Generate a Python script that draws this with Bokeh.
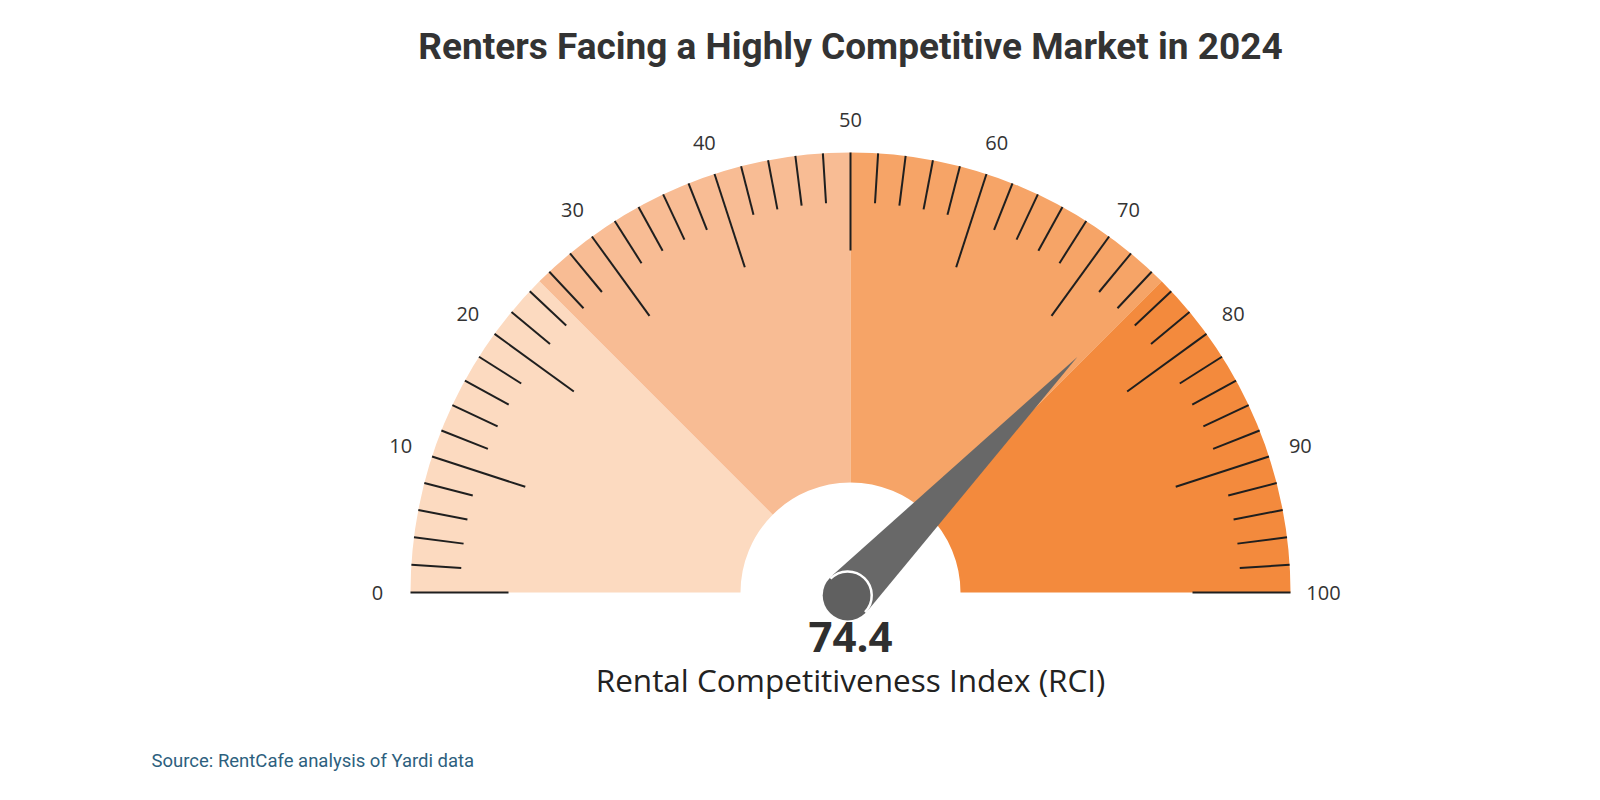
import math
from bokeh.plotting import figure
from bokeh.models import ColumnDataSource, Range1d
from bokeh.core.properties import value
from bokeh.embed import file_html
from bokeh.resources import INLINE

# ---- data ----
title_text = "Renters Facing a Highly Competitive Market in 2024"
source_text = "Source: RentCafe analysis of Yardi data"
index_name = "Rental Competitiveness Index (RCI)"
rci_value = 74.4
band_edges = [0, 25, 50, 75, 100]
band_colors = ["#FCDAC0", "#F8BC94", "#F6A467", "#F38A3D"]
major_ticks = [0, 10, 20, 30, 40, 50, 60, 70, 80, 90, 100]
minor_ticks = [v for v in range(0, 101, 2) if v % 10 != 0]
tick_labels = [str(v) for v in major_ticks]

# ---- geometry (pixel-like data units) ----
W, H = 1600, 800
CX, CY = 850, 800 - 592
R_OUT, R_IN = 440, 110
MAJOR_LEN, MINOR_LEN = 98, 50
LABEL_R = 473


def ang(v):
    return math.pi * (1 - v / 100.0)


p = figure(width=W, height=H, x_range=Range1d(0, W), y_range=Range1d(0, H),
           output_backend="svg", toolbar_location=None, min_border=0,
           outline_line_color=None, background_fill_color="white",
           border_fill_color="white")
p.axis.visible = False
p.grid.visible = False

# bands
band_src = ColumnDataSource(dict(
    start=[ang(b) for b in band_edges[1:]],
    end=[ang(a) for a in band_edges[:-1]],
    color=band_colors,
))
p.annular_wedge(x=CX, y=CY, inner_radius=R_IN, outer_radius=R_OUT,
                start_angle="start", end_angle="end", color="color",
                line_color=None, source=band_src)


def tick_src(vals, length):
    x0, y0, x1, y1 = [], [], [], []
    for v in vals:
        a = ang(v)
        x0.append(CX + R_OUT * math.cos(a)); y0.append(CY + R_OUT * math.sin(a))
        x1.append(CX + (R_OUT - length) * math.cos(a)); y1.append(CY + (R_OUT - length) * math.sin(a))
    return ColumnDataSource(dict(x0=x0, y0=y0, x1=x1, y1=y1))


p.segment(x0="x0", y0="y0", x1="x1", y1="y1", source=tick_src(minor_ticks, MINOR_LEN),
          line_color="#1f1f1f", line_width=2)
p.segment(x0="x0", y0="y0", x1="x1", y1="y1", source=tick_src(major_ticks, MAJOR_LEN),
          line_color="#1f1f1f", line_width=2)

# tick labels
lab_src = ColumnDataSource(dict(
    x=[CX + LABEL_R * math.cos(ang(v)) for v in major_ticks],
    y=[CY + LABEL_R * math.sin(ang(v)) for v in major_ticks],
    t=tick_labels,
))
p.text(x="x", y="y", text="t", source=lab_src, text_align="center",
       text_baseline="middle", text_font=value("Open Sans"),
       text_font_size="20px", text_color="#333333")

# needle
a = ang(rci_value)
NEEDLE_LEN = 327
BASE_R = 25
tipx, tipy = CX + NEEDLE_LEN * math.cos(a), CY + NEEDLE_LEN * math.sin(a)
px, py = -math.sin(a), math.cos(a)
p.patch(x=[CX + BASE_R * px, tipx, CX - BASE_R * px],
        y=[CY + BASE_R * py, tipy, CY - BASE_R * py],
        fill_color="#686868", line_color=None)
p.scatter(x=[CX - 4 * math.cos(a)], y=[CY - 4 * math.sin(a)], size=2 * BASE_R,
          fill_color="#606060", line_color=None)
p.arc(x=CX - 4 * math.cos(a), y=CY - 4 * math.sin(a), radius=BASE_R - 1,
      start_angle=a - math.pi / 2, end_angle=a + math.pi / 2,
      line_color="white", line_width=2.5)

# value and name
p.text(x=[CX], y=[800 - 636], text=[f"{rci_value:.1f}"], text_align="center",
       text_baseline="middle", text_font=value("Open Sans"), text_font_style="bold",
       text_font_size="42px", text_color="#2f2f2f")
p.text(x=[CX], y=[800 - 679], text=[index_name], text_align="center",
       text_baseline="middle", text_font=value("Open Sans"),
       text_font_size="31.5px", text_color="#222222")

# title
p.text(x=[CX], y=[800 - 46], text=[title_text], text_align="center",
       text_baseline="middle", text_font=value("Roboto"),
       text_font_style="bold", text_font_size="37px", text_color="#333333")

# source
p.text(x=[151], y=[800 - 760], text=[source_text], text_align="left",
       text_baseline="middle", text_font=value("Roboto"),
       text_font_size="18.5px", text_color="#2D5F7E")

open("out.html", "w").write(file_html(p, INLINE))
